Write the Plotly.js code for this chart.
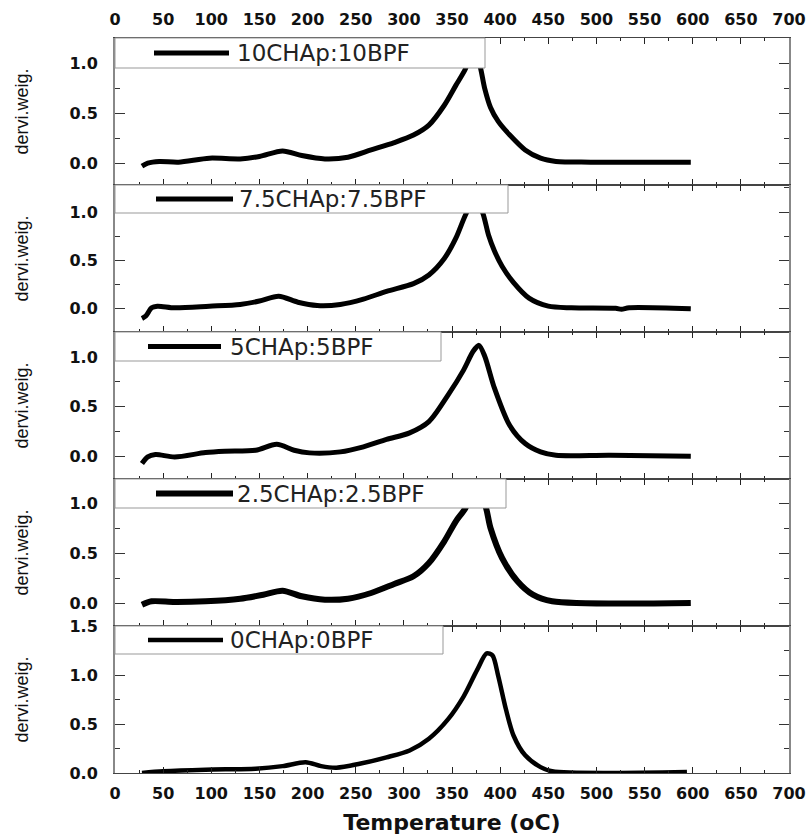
<!DOCTYPE html>
<html><head><meta charset="utf-8">
<script src="https://cdn.plot.ly/plotly-3.0.1.min.js"></script>
<style>html,body{margin:0;padding:0;background:#fff}</style>
</head><body><div id="chart" style="width:812px;height:836px"></div>
<script>
// ---- data ----
const seriesNames = ["10CHAp:10BPF", "7.5CHAp:7.5BPF", "5CHAp:5BPF", "2.5CHAp:2.5BPF", "0CHAp:0BPF"];

const temp10 = [28,34,46,66,98,130,150,174,194,218,242,266,290,310,326,342,354,364,371,378,384,390,398,410,426,442,458,494,598];
const val10  = [-0.03,0.0,0.017,0.01,0.05,0.043,0.067,0.123,0.077,0.043,0.06,0.133,0.207,0.283,0.383,0.583,0.783,0.95,1.15,1.02,0.75,0.56,0.42,0.283,0.133,0.05,0.017,0.01,0.01];

const temp75 = [28,32,38,44,62,98,130,150,170,190,210,234,258,282,310,326,342,354,364,374,382,388,394,402,414,430,450,474,520,526,534,598];
const val75  = [-0.10,-0.075,0.01,0.027,0.01,0.027,0.045,0.08,0.13,0.068,0.034,0.045,0.10,0.18,0.26,0.35,0.52,0.73,0.97,1.15,0.99,0.76,0.6,0.44,0.27,0.11,0.027,0.01,0.005,-0.005,0.01,0.0];

const temp5 = [28,34,42,62,94,114,146,168,186,202,234,258,282,306,326,346,362,372,378,384,394,410,426,442,458,514,598];
const val5  = [-0.074,-0.007,0.017,-0.007,0.037,0.05,0.06,0.12,0.06,0.034,0.044,0.095,0.17,0.236,0.35,0.62,0.87,1.06,1.12,1.01,0.69,0.31,0.128,0.044,0.01,0.01,0.0];

const temp25 = [28,38,62,94,130,154,174,194,218,242,266,290,310,326,342,354,364,372,384,390,402,418,434,454,598];
const val25  = [-0.017,0.017,0.01,0.017,0.043,0.083,0.123,0.067,0.033,0.043,0.10,0.19,0.267,0.40,0.617,0.817,0.95,1.15,0.99,0.75,0.45,0.217,0.083,0.017,0.0];

const temp0 = [28,50,94,146,174,198,214,230,254,282,306,326,346,362,376,386,392,398,406,414,426,442,454,594];
const val0  = [0.0,0.017,0.034,0.044,0.07,0.11,0.07,0.054,0.094,0.16,0.23,0.35,0.55,0.78,1.05,1.22,1.20,0.99,0.65,0.38,0.18,0.06,0.017,0.01];

const xTickVals = [0,50,100,150,200,250,300,350,400,450,500,550,600,650,700];
const yTickVals = [[0,0.5,1.0],[0,0.5,1.0],[0,0.5,1.0],[0,0.5,1.0],[0,0.5,1.0,1.5]];
const xTitle = "Temperature (oC)";
const yTitle = "dervi.weig.";

// ---- style / layout settings (not data) ----
const yRanges = [[-0.22,1.26],[-0.24,1.28],[-0.23,1.255],[-0.23,1.24],[0,1.5]];
const widths = [5, 5, 5, 6, 4.5];
// legend box geometry per panel, in px of the 674x147 panel
const legBoxRight = [370, 393, 326, 391, 328];
const legBoxH = [30, 28, 29, 29, 28];
const legLineX = [[39,114],[41,118],[33,106],[41,118],[33,108]];
const legTextX = [120, 122, 113, 120, 113];

const temps = [temp10, temp75, temp5, temp25, temp0];
const vals  = [val10, val75, val5, val25, val0];

// ---- build figure ----
const n = 5, PW = 674, PH = 147;
const traces = [];
const shapes = [];
const annotations = [];
const layout = {
  width: 812, height: 836,
  margin: {l: 115, r: 23, t: 38, b: 63},
  paper_bgcolor: "#fff", plot_bgcolor: "#fff",
  showlegend: false,
  font: {family: "DejaVu Sans", color: "#111"}
};
const tickFontX = {family: "DejaVu Sans", size: 16, weight: "bold", color: "#111"};
const tickFontY = {family: "DejaVu Sans", size: 16, weight: "bold", color: "#111"};

for (let i = 0; i < n; i++) {
  const k = i + 1;
  const xa = k === 1 ? "x" : "x" + k;
  const ya = k === 1 ? "y" : "y" + k;
  const d0 = (n - 1 - i) / n, d1 = (n - i) / n;
  traces.push({
    x: temps[i], y: vals[i], xaxis: xa, yaxis: ya,
    type: "scatter", mode: "lines", name: seriesNames[i],
    line: {color: "#000", width: widths[i], shape: "spline", smoothing: 0.8}
  });
  const xName = k === 1 ? "xaxis" : "xaxis" + k;
  const yName = k === 1 ? "yaxis" : "yaxis" + k;
  layout[xName] = {
    anchor: ya, range: [0, 700], tickvals: xTickVals, ticktext: xTickVals.map(String),
    side: k === 1 ? "top" : "bottom",
    showticklabels: (k === 1 || k === n),
    ticks: "inside", ticklen: 6, tickwidth: 1, tickcolor: "#222",
    minor: {ticks: "inside", dtick: 25, tick0: 0, ticklen: 3, tickwidth: 1, tickcolor: "#222"},
    showline: true, linecolor: "#444", linewidth: 1, mirror: "ticks",
    showgrid: false, zeroline: false, tickfont: tickFontX, ticklabelstandoff: 6,
    fixedrange: true
  };
  if (k !== 1) layout[xName].matches = "x";
  if (k === n) layout[xName].title = {text: xTitle, font: {family: "DejaVu Sans", size: 22, weight: "bold", color: "#111"}, standoff: 12};
  layout[yName] = {
    anchor: xa, domain: [d0, d1], range: yRanges[i], tickvals: yTickVals[i],
    ticktext: yTickVals[i].map(v => v.toFixed(1)),
    ticks: "inside", ticklen: 10, tickwidth: 1, tickcolor: "#333",
    minor: {ticks: "inside", dtick: 0.25, tick0: 0, ticklen: 5, tickwidth: 1, tickcolor: "#333"},
    showline: true, linecolor: "#888", linewidth: 2, mirror: "ticks",
    showgrid: false, zeroline: false, tickfont: tickFontY, ticklabelstandoff: 12,
    title: {text: yTitle, font: {family: "Liberation Sans", size: 18, color: "#111"}, standoff: 36},
    automargin: false, fixedrange: true
  };
  // legend box for this panel
  const xd = xa + " domain", yd = ya + " domain";
  const h = legBoxH[i] / PH;
  shapes.push({type: "rect", xref: xd, yref: yd, x0: 0, x1: legBoxRight[i] / PW, y0: 1 - h, y1: 1,
    fillcolor: "#fff", line: {color: "#999", width: 1}, layer: "above"});
  shapes.push({type: "line", xref: xd, yref: yd, x0: legLineX[i][0] / PW, x1: legLineX[i][1] / PW,
    y0: 1 - h / 2, y1: 1 - h / 2, line: {color: "#000", width: widths[i]}, layer: "above"});
  annotations.push({xref: xd, yref: yd, x: legTextX[i] / PW, y: 1 - h / 2, xanchor: "left", yanchor: "middle",
    text: seriesNames[i], showarrow: false, font: {family: "DejaVu Sans", size: 23, color: "#222"}});
}
layout.shapes = shapes;
layout.annotations = annotations;

Plotly.newPlot("chart", traces, layout, {displayModeBar: false, staticPlot: true});
</script>
</body></html>
